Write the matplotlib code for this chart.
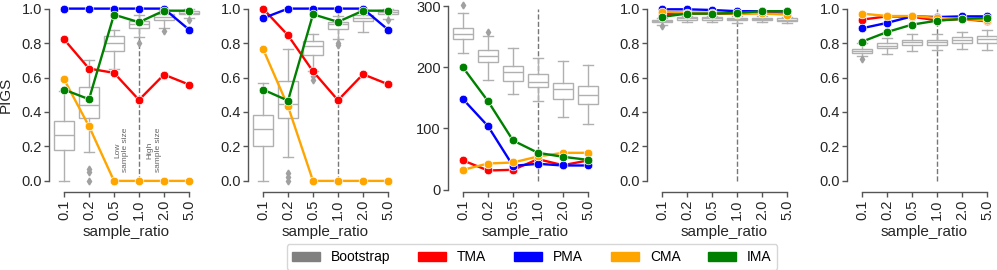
import matplotlib
matplotlib.use("Agg")
import matplotlib.pyplot as plt
from matplotlib.patches import Patch

plt.rcParams['font.family'] = ['Liberation Sans', 'DejaVu Sans']

# x categories
ratios = ["0.1", "0.2", "0.5", "1.0", "2.0", "5.0"]
methods = ["TMA", "PMA", "CMA", "IMA"]
method_colors = ["red", "blue", "orange", "green"]
boot_color = "gray"

# one row per panel
tma = [
    [0.822, 0.652, 0.627, 0.470, 0.617, 0.559],
    [1.000, 0.845, 0.636, 0.468, 0.619, 0.561],
    [47.5, 31.1, 32.2, 49.6, 39.8, 47.5],
    [0.968, 0.972, 0.972, 0.970, 0.975, 0.970],
    [0.936, 0.955, 0.953, 0.932, 0.940, 0.926],
]
pma = [
    [1.000, 1.000, 1.000, 1.000, 1.000, 0.878],
    [0.944, 1.000, 1.000, 1.000, 1.000, 0.878],
    [147.8, 103.6, 38.7, 42.0, 39.3, 39.3],
    [0.996, 0.996, 0.992, 0.985, 0.985, 0.985],
    [0.886, 0.917, 0.955, 0.951, 0.955, 0.955],
]
cma = [
    [0.590, 0.317, 0.0, 0.0, 0.0, 0.0],
    [0.766, 0.433, 0.0, 0.0, 0.0, 0.0],
    [32.2, 42.5, 44.2, 54.0, 60.0, 60.0],
    [0.983, 0.977, 0.977, 0.970, 0.972, 0.965],
    [0.971, 0.957, 0.957, 0.946, 0.940, 0.932],
]
ima = [
    [0.530, 0.474, 0.965, 0.921, 0.988, 0.988],
    [0.530, 0.466, 0.967, 0.923, 0.988, 0.988],
    [199.6, 144.5, 80.2, 60.0, 53.5, 48.5],
    [0.952, 0.971, 0.971, 0.975, 0.985, 0.985],
    [0.808, 0.864, 0.907, 0.930, 0.940, 0.946],
]

# bootstrap box statistics, one row per panel
boot_whislo = [
    [0.0, 0.168, 0.652, 0.836, 0.885, 0.945],
    [0.0, 0.137, 0.638, 0.824, 0.863, 0.942],
    [222.6, 179.0, 155.5, 144.6, 117.8, 106.4],
    [0.905, 0.920, 0.922, 0.915, 0.920, 0.914],
    [0.723, 0.736, 0.756, 0.758, 0.764, 0.758],
]
boot_q1 = [
    [0.178, 0.367, 0.754, 0.890, 0.932, 0.967],
    [0.203, 0.366, 0.729, 0.884, 0.927, 0.967],
    [245.5, 208.4, 177.3, 167.0, 147.8, 139.7],
    [0.920, 0.936, 0.936, 0.932, 0.932, 0.929],
    [0.742, 0.771, 0.787, 0.789, 0.800, 0.800],
]
boot_med = [
    [0.265, 0.443, 0.803, 0.909, 0.950, 0.977],
    [0.302, 0.449, 0.781, 0.909, 0.948, 0.979],
    [253.7, 218.0, 192.6, 176.2, 163.7, 154.4],
    [0.928, 0.944, 0.943, 0.940, 0.940, 0.936],
    [0.756, 0.785, 0.804, 0.804, 0.818, 0.824],
]
boot_q3 = [
    [0.348, 0.547, 0.839, 0.928, 0.967, 0.986],
    [0.385, 0.582, 0.814, 0.921, 0.961, 0.990],
    [265.0, 228.0, 201.3, 188.8, 175.0, 169.0],
    [0.936, 0.951, 0.951, 0.947, 0.947, 0.943],
    [0.767, 0.800, 0.816, 0.820, 0.833, 0.839],
]
boot_whishi = [
    [0.522, 0.704, 0.878, 0.961, 0.994, 1.000],
    [0.571, 0.766, 0.855, 0.956, 0.994, 1.000],
    [288.0, 251.0, 231.8, 214.4, 210.6, 203.0],
    [0.945, 0.960, 0.958, 0.955, 0.958, 0.953],
    [0.800, 0.829, 0.853, 0.851, 0.866, 0.874],
]
boot_fliers = [
    [[], [0.07, 0.05, 0.0], [], [0.80], [0.868], [0.935]],
    [[], [0.043, 0.023, 0.0], [0.607, 0.588], [0.80, 0.787], [], [0.932]],
    [[301.7], [258.0], [], [], [], []],
    [[0.897], [], [], [], [], []],
    [[0.709], [], [], [], [], []],
]

W, H = 997, 270
fig = plt.figure(figsize=(W / 100, H / 100), dpi=100)
lefts = [51.5, 250.5, 450.5, 649.5, 849.5]
box_edge = "#b0b0b0"
x = list(range(len(ratios)))

for p, left in enumerate(lefts):
    ax = fig.add_axes([left / W, 1 - 189.5 / H, 150 / W, 189.5 / H])

    ax.axvline(3, ymin=0.045, ymax=0.95, color="#777777", ls="--", lw=1, zorder=1)

    stats = []
    for j in x:
        stats.append(dict(whislo=boot_whislo[p][j], q1=boot_q1[p][j], med=boot_med[p][j],
                          q3=boot_q3[p][j], whishi=boot_whishi[p][j], fliers=boot_fliers[p][j]))
    ax.bxp(stats, positions=x, widths=0.8, capwidths=0.4, patch_artist=True,
           boxprops=dict(facecolor="white", edgecolor=box_edge, lw=1),
           whiskerprops=dict(color=box_edge, lw=1),
           capprops=dict(color=box_edge, lw=1),
           medianprops=dict(color=box_edge, lw=1),
           flierprops=dict(marker="d", markerfacecolor="#a0a0a0", markeredgecolor="#a0a0a0",
                           markersize=3.5),
           zorder=2)

    for vals, c in zip([tma[p], pma[p], cma[p], ima[p]], method_colors):
        ax.plot(x, vals, color=c, lw=1.7, marker="o", ms=6.2, mec="white", mew=0.5, zorder=3,
                clip_on=False)

    ax.set_xlim(-0.5, 5.5)
    if p == 2:
        ax.set_ylim(0, 310)
        ax.set_yticks([0, 100, 200, 300])
        ax.spines["left"].set_bounds(0, 300)
    else:
        ax.set_ylim(-0.05, 1.05)
        ax.set_yticks([0, 0.2, 0.4, 0.6, 0.8, 1.0])
        ax.set_yticklabels(["0.0", "0.2", "0.4", "0.6", "0.8", "1.0"])
        ax.spines["left"].set_bounds(0, 1)
    ax.set_xticks(x)
    ax.set_xticklabels(ratios)
    ax.spines["bottom"].set_bounds(0, 5)
    for s in ["top", "right"]:
        ax.spines[s].set_visible(False)
    for s in ["left", "bottom"]:
        ax.spines[s].set_position(("outward", 1.5))
        ax.spines[s].set_color("#555555")
        ax.spines[s].set_linewidth(1)
    ax.tick_params(direction="out", length=3.5, width=1, color="#555555",
                   labelsize=10.5, labelcolor="#262626", pad=2)
    ax.tick_params(axis="x", labelrotation=90)
    ax.set_xlabel("sample_ratio", fontsize=11, color="#262626", labelpad=4)
    ax.set_facecolor("none")

    if p == 0:
        ax.set_ylabel("PIGS", fontsize=11, color="#262626")
        ax.yaxis.set_label_coords(-0.26, 0.5)
        ax.text(2.3, 0.18, "Low\nsample size", rotation=90, ha="center", va="center",
                multialignment="center", fontsize=6, color="#666666")
        ax.text(3.6, 0.18, "High\nsample size", rotation=90, ha="center", va="center",
                multialignment="center", fontsize=6, color="#666666")

handles = [Patch(color=boot_color)] + [Patch(color=c) for c in method_colors]
labels = ["Bootstrap"] + methods
fig.legend(handles, labels, loc="center", bbox_to_anchor=(532 / W, 1 - 257 / H), ncol=5,
           fontsize=10, frameon=True, handleheight=0.6)

fig.savefig("out.png", dpi=100)
